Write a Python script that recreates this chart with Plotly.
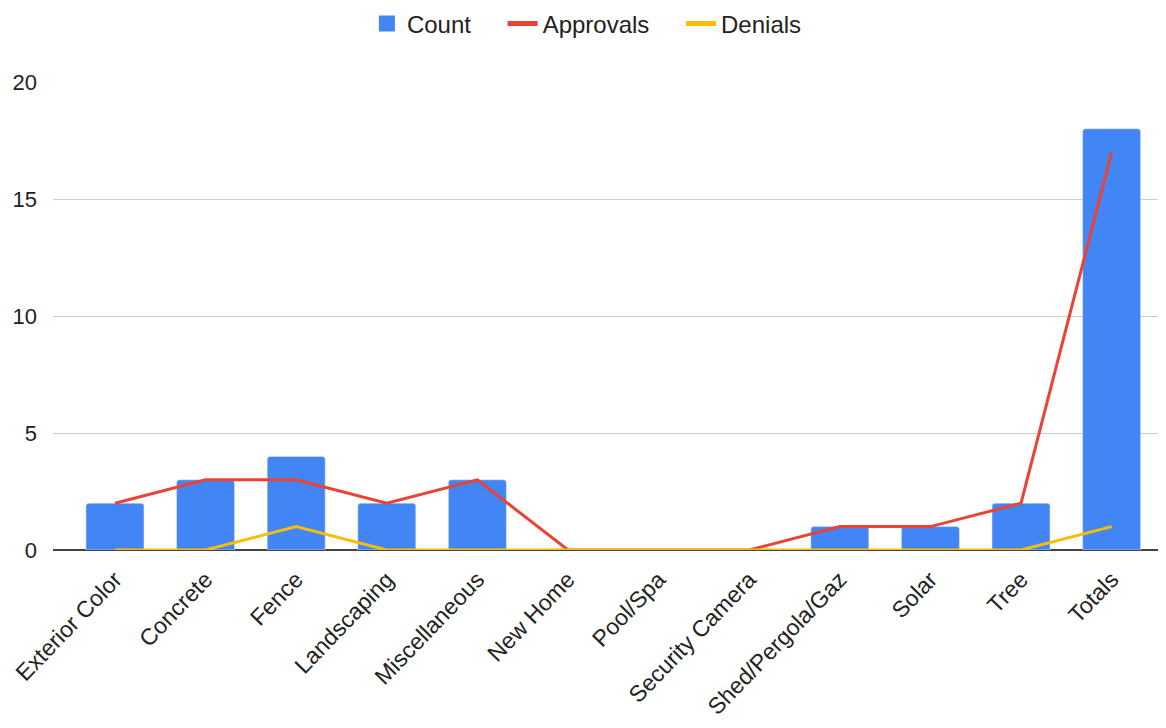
import plotly.graph_objects as go

categories = ["Exterior Color", "Concrete", "Fence", "Landscaping", "Miscellaneous",
              "New Home", "Pool/Spa", "Security Camera", "Shed/Pergola/Gaz", "Solar",
              "Tree", "Totals"]
count = [2, 3, 4, 2, 3, 0, 0, 0, 1, 1, 2, 18]
approvals = [2, 3, 3, 2, 3, 0, 0, 0, 1, 1, 2, 17]
denials = [0, 0, 1, 0, 0, 0, 0, 0, 0, 0, 0, 1]
y_ticks = [0, 5, 10, 15, 20]

BLUE, RED, YELLOW = "#4285F4", "#EA4335", "#FBBC04"
FONT = "Arial, 'Liberation Sans', sans-serif"
x_idx = list(range(len(categories)))
pad = "\u00a0\u00a0\u00a0\u00a0"

fig = go.Figure()
fig.add_trace(go.Bar(x=x_idx, y=count, name="Count", marker_color=BLUE,
                     width=0.64, showlegend=False))
fig.add_trace(go.Scatter(x=x_idx, y=approvals, name="Approvals", mode="lines",
                         line=dict(color=RED, width=3), showlegend=False))
fig.add_trace(go.Scatter(x=x_idx, y=denials, name="Denials", mode="lines",
                         line=dict(color=YELLOW, width=3), showlegend=False))
# legend entries
fig.add_trace(go.Scatter(x=[None], y=[None], name="Count" + pad, mode="markers",
                         marker=dict(symbol="square", size=22, color=BLUE)))
fig.add_trace(go.Scatter(x=[None], y=[None], name="Approvals" + pad, mode="lines",
                         line=dict(color=RED, width=5)))
fig.add_trace(go.Scatter(x=[None], y=[None], name="Denials", mode="lines",
                         line=dict(color=YELLOW, width=5)))

# the page body adds an 8px offset, so the figure is 8px smaller
fig.update_layout(
    width=1158, height=720,
    margin=dict(l=45, r=3, t=74, b=178, autoexpand=False),
    paper_bgcolor="white", plot_bgcolor="white",
    font=dict(family=FONT, size=22, color="#222222"),
    barcornerradius=3,
    showlegend=True,
    legend=dict(orientation="h", x=0.481, xanchor="center",
                yref="container", y=0.978, yanchor="middle",
                font=dict(size=24, color="#222222", family=FONT), itemwidth=30,
                traceorder="normal", bgcolor="rgba(0,0,0,0)"),
    xaxis=dict(tickmode="array", tickvals=x_idx, ticktext=categories,
               tickangle=-46, range=[-0.684, 11.567], showgrid=False,
               zeroline=False, showline=False, ticks="outside", ticklen=6,
               tickcolor="rgba(0,0,0,0)", automargin=False,
               tickfont=dict(size=23, color="#222222", family=FONT)),
    yaxis=dict(range=[0, 20], tickvals=y_ticks, showgrid=True,
               gridcolor="#cccccc", gridwidth=1, zeroline=True,
               zerolinecolor="#444444", zerolinewidth=2, showline=False,
               ticks="", ticklabelstandoff=15, automargin=False,
               tickfont=dict(size=22, color="#222222", family=FONT)),
)

fig.write_html("out.html")
